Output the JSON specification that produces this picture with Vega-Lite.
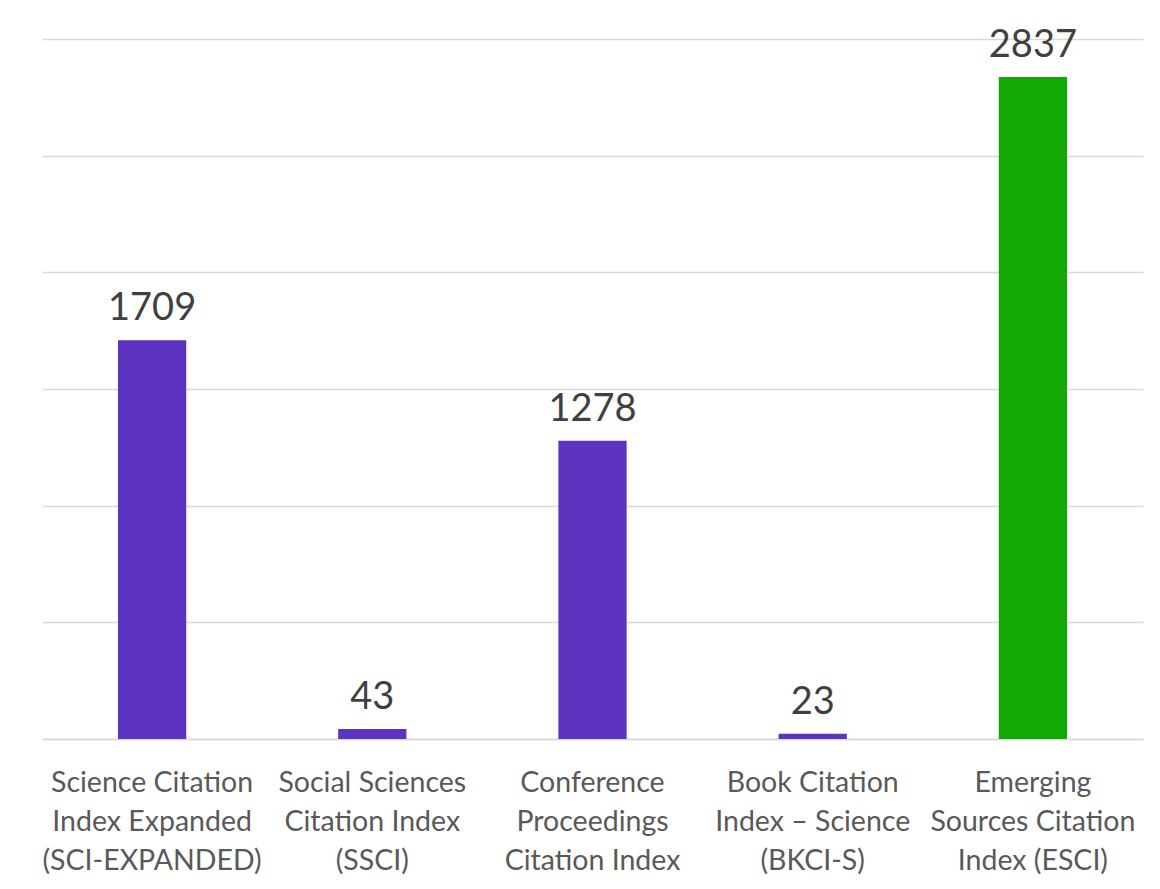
{
  "$schema": "https://vega.github.io/schema/vega-lite/v6.json",
  "autosize": "none",
  "width": 1101,
  "height": 700,
  "padding": {"left": 42, "top": 39, "right": 17, "bottom": 150},
  "background": "white",
  "config": {"view": {"stroke": null}, "font": "Lato"},
  "data": {"values": [
    {"index": "Science Citation|Index Expanded|(SCI-EXPANDED)", "count": 1709, "group": "a"},
    {"index": "Social Sciences|Citation Index|(SSCI)", "count": 43, "group": "a"},
    {"index": "Conference|Proceedings|Citation Index", "count": 1278, "group": "a"},
    {"index": "Book Citation|Index – Science|(BKCI-S)", "count": 23, "group": "a"},
    {"index": "Emerging|Sources Citation|Index (ESCI)", "count": 2837, "group": "b"}
  ]},
  "encoding": {
    "x": {"field": "index", "type": "nominal", "sort": null,
      "scale": {"paddingInner": 0, "paddingOuter": 0},
      "axis": {"title": null, "labelAngle": 0, "labelExpr": "split(datum.label, '|')",
        "labelFontSize": 28.5, "labelLineHeight": 39, "labelColor": "#595959",
        "labelPadding": 29, "ticks": false, "domainColor": "#d9d9d9", "domainWidth": 1.5, "labelLimit": 0}},
    "y": {"field": "count", "type": "quantitative",
      "scale": {"domain": [0, 3000]},
      "axis": {"title": null, "labels": false, "ticks": false, "domain": false,
        "values": [0, 500, 1000, 1500, 2000, 2500, 3000], "gridColor": "#d9d9d9", "gridWidth": 1.5}}
  },
  "layer": [
    {"mark": {"type": "bar", "width": {"band": 0.31}},
      "encoding": {"color": {"field": "group", "type": "nominal", "legend": null,
        "scale": {"domain": ["a", "b"], "range": ["#5b33bf", "#13a805"]}}}},
    {"mark": {"type": "text", "baseline": "alphabetic", "dy": -20, "fontSize": 38, "color": "#404040"},
      "encoding": {"text": {"field": "count", "type": "quantitative"}}}
  ]
}
